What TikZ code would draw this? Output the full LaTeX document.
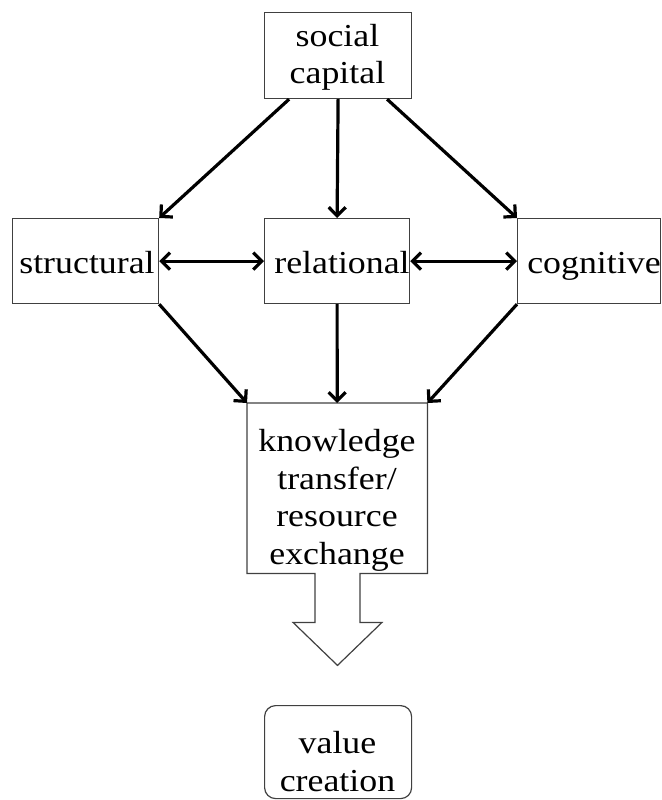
\documentclass[tikz,border=0pt]{standalone}
\usepackage{fontspec}
\setmainfont[FakeStretch=1.12]{Liberation Serif}
\usetikzlibrary{arrows.meta}
\begin{document}
\begin{tikzpicture}[x=1pt,y=-1pt,
  boxline/.style={draw=black!75, line width=1.2pt, inner sep=0pt},
  barb/.tip={Straight Barb[length=8.5pt,width=17pt,line width=3.2pt]},
  flow/.style={line width=3.2pt, -barb},
  twoway/.style={line width=3.2pt, barb-barb},
  lbl/.style={font=\fontsize{32}{37.5}\selectfont, align=center, inner sep=0pt}
]
\useasboundingbox (0,0) rectangle (661,800);

% boxes
\node[boxline, minimum width=147pt, minimum height=86pt, anchor=north west] (social) at (264,12) {};
\node[boxline, minimum width=146pt, minimum height=85pt, anchor=north west] (structural) at (12,218) {};
\node[boxline, minimum width=145pt, minimum height=85pt, anchor=north west] (relational) at (264,218) {};
\node[boxline, minimum width=143pt, minimum height=85pt, anchor=north west] (cognitive) at (517,218) {};
\node[draw=none, inner sep=0pt, minimum width=180pt, minimum height=170pt, anchor=north west] (knowledge) at (247,403) {};
\node[boxline, rounded corners=11pt, minimum width=147pt, minimum height=93pt, anchor=north west] (value) at (264,705) {};

% knowledge box with the hollow arrow hanging below it
\draw[black!75, line width=1.2pt, line join=miter]
  (knowledge.south west) -- ++(68,0) -- ++(0,49) -- ++(-22,0)
  -- ++(44.5,43) -- ++(44.5,-43) -- ++(-22,0) -- ++(0,-49)
  -- (knowledge.south east) -- (knowledge.north east)
  -- (knowledge.north west) -- cycle;

% labels
\node[lbl] (socialtxt) at (337.5,57.5) {social\\capital};
\node[lbl, anchor=base] (structuraltxt) at (87,273) {structural};
\node[lbl, anchor=base] (relationaltxt) at (342,273) {relational};
\node[lbl, anchor=base] (cognitivetxt) at (594,273) {cognitive};
\node[lbl] (knowledgetxt) at (337,500.5) {knowledge\\transfer/\\resource\\exchange};
\node[lbl] (valuetxt) at (337.5,761.5) {value\\creation};

% connectors
\draw[flow] ([xshift=-49pt]social.south) -- (structural.north east);
\draw[flow] (social.south) -- (relational.north);
\draw[flow] ([xshift=49pt]social.south) -- (cognitive.north west);
\draw[twoway] (structural.east) -- (relational.west);
\draw[twoway] (relational.east) -- (cognitive.west);
\draw[flow] (structural.south east) -- (knowledge.north west);
\draw[flow] (relational.south) -- (knowledge.north);
\draw[flow] (cognitive.south west) -- (knowledge.north east);
\end{tikzpicture}
\end{document}
